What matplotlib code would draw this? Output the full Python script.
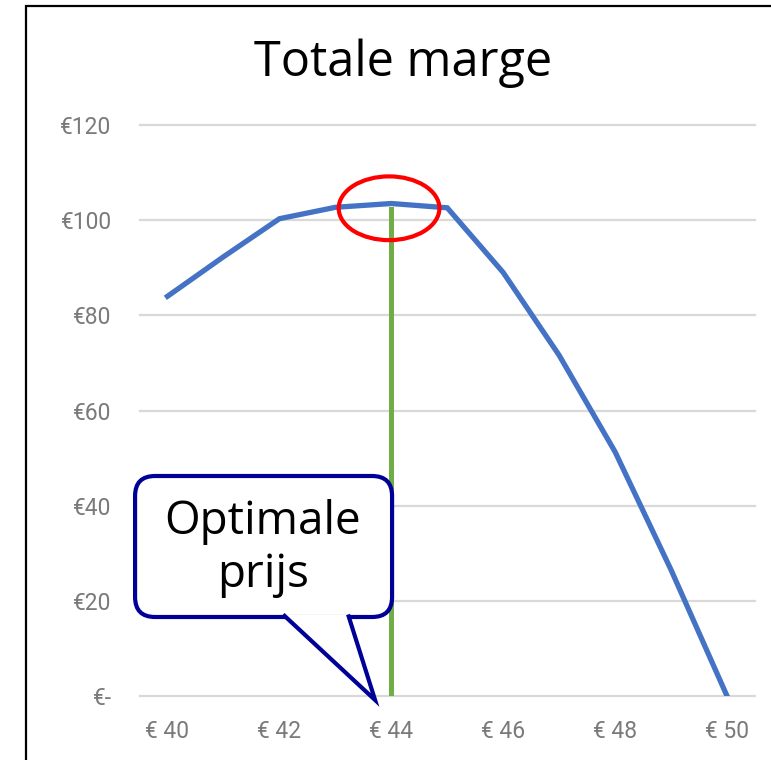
import numpy as np
import matplotlib.pyplot as plt
from matplotlib.patches import FancyBboxPatch, Polygon, Ellipse, Rectangle
from matplotlib.transforms import IdentityTransform

# prijs (x) en totale marge (y)
prices = [40, 41, 42, 43, 44, 45, 46, 47, 48, 49, 50]
margins = [84, 92.3, 100.3, 102.7, 103.5, 102.6, 89, 71.6, 51.3, 26.5, 0]
x_ticks = [40, 42, 44, 46, 48, 50]
x_labels = ["€ 40", "€ 42", "€ 44", "€ 46", "€ 48", "€ 50"]
y_ticks = [0, 20, 40, 60, 80, 100, 120]
y_labels = ["€-", "€20", "€40", "€60", "€80", "€100", "€120"]
opt_price = 44
opt_marker_top = 102.4


def plot():
    W, H = 771, 760
    fig = plt.figure(figsize=(W / 100, H / 100), dpi=100)
    ax = fig.add_axes([139.5 / W, 1 - 696 / H, (755 - 139.5) / W, (696 - 125) / H])

    # gridlines
    for y in y_ticks:
        ax.axhline(y, color="#D9D9D9", lw=1.6, zorder=1, clip_on=False)

    ax.plot(prices, margins, color="#4472C4", lw=3.8, zorder=3,
            solid_joinstyle="miter")
    ax.plot([opt_price, opt_price], [0, opt_marker_top], color="#70AD47",
            lw=3.6, zorder=4)

    i = prices.index(opt_price)
    ax.add_patch(Ellipse((opt_price - 0.04, margins[i] - 1.0), 1.8, 13.4,
                         fill=False, ec="#FF0000", lw=3.0, zorder=5))

    ax.set_xlim(39.5, 50.5)
    ax.set_ylim(0, 120)
    ax.set_xticks(x_ticks)
    ax.set_xticklabels(x_labels)
    ax.set_yticks(y_ticks)
    ax.set_yticklabels(y_labels)
    for s in ax.spines.values():
        s.set_visible(False)
    ax.tick_params(length=0, labelsize=16.5, labelcolor="#7A7A7A")
    ax.tick_params(axis="y", pad=20)
    ax.tick_params(axis="x", pad=17)
    for lab in ax.get_xticklabels() + ax.get_yticklabels():
        lab.set_family("Roboto")

    fig.text(403 / W, 1 - 63 / H, "Totale marge", ha="center", va="center",
             fontsize=35, family="Open Sans", color="black")

    # callout "Optimale prijs", pointing at the optimal price on the x axis
    fig.canvas.draw()
    tx, ty = ax.transData.transform((opt_price - 0.29, 0))
    ty -= 4
    # positions in pixels relative to tip (y up)
    bx0, bx1 = tx - 240, tx + 17
    by0, by1 = ty + 83, ty + 224
    navy = "#000099"
    box = FancyBboxPatch((bx0, by0), bx1 - bx0, by1 - by0,
                         boxstyle="round,pad=0,rounding_size=20",
                         transform=IdentityTransform(), fc="white", ec=navy,
                         lw=3.0, zorder=3.5)
    fig.add_artist(box)
    ptr = Polygon([(tx - 92, by0 + 2.5), (tx, ty), (tx - 27, by0 + 2.5)],
                  closed=False, transform=IdentityTransform(), fc="white",
                  ec=navy, lw=3.0, zorder=3.6, joinstyle="miter")
    fig.add_artist(ptr)
    fig.text(263 / W, 1 - 522 / H, "Optimale", ha="center", va="center",
             fontsize=33, family="Open Sans", zorder=3.7)
    fig.text(263 / W, 1 - 575 / H, "prijs", ha="center", va="center",
             fontsize=33, family="Open Sans", zorder=3.7)

    # slide frame
    fig.add_artist(Rectangle((26 / W, -0.1), 1.2, 1.1 - 6 / H,
                             transform=fig.transFigure, fill=False,
                             ec="black", lw=1.6))

    fig.savefig("out.png", dpi=100)


def main():
    plot()


if __name__ == "__main__":
    main()
